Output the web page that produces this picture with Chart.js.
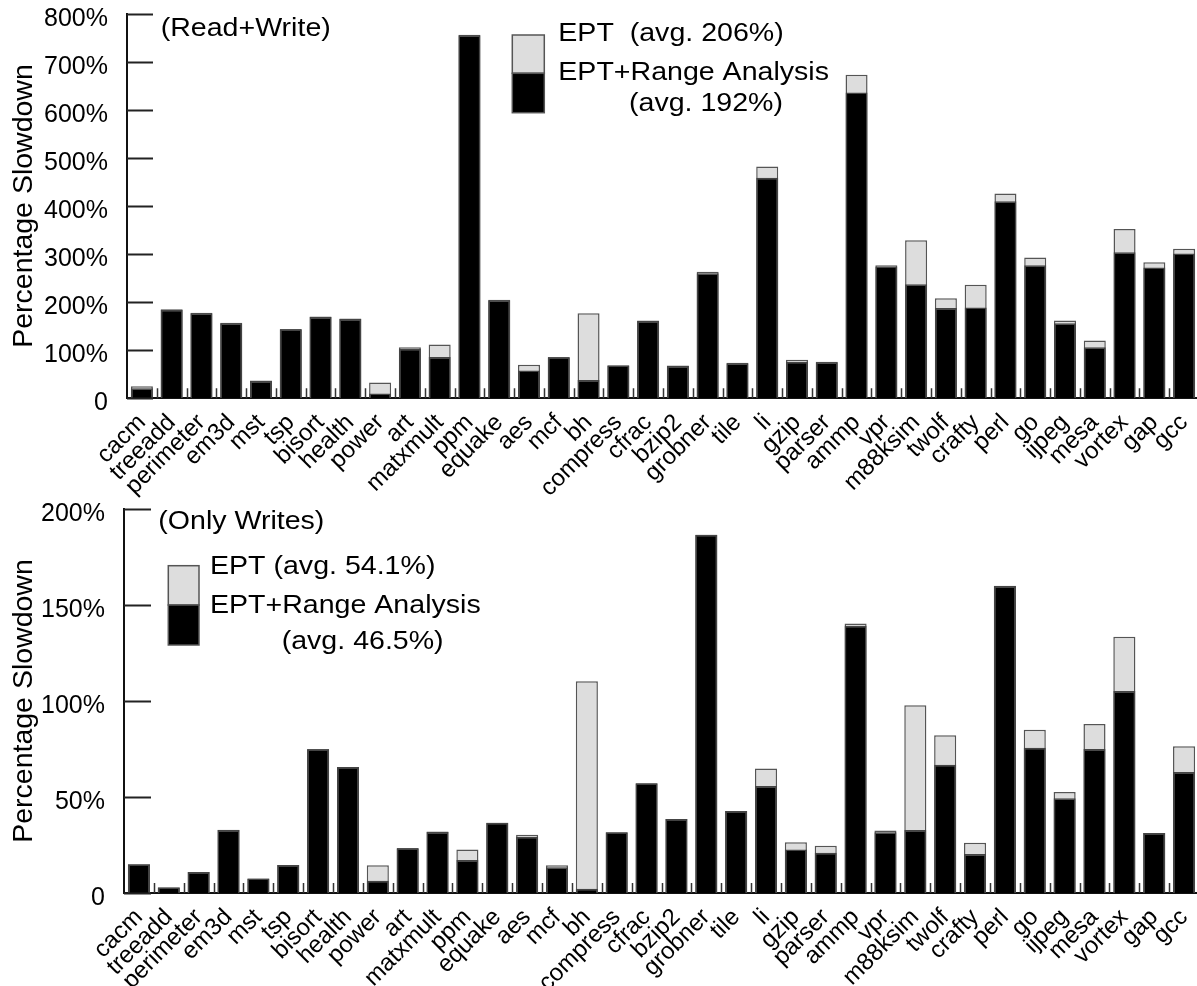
<!DOCTYPE html>
<html>
<head>
<meta charset="utf-8">
<script src="https://cdn.jsdelivr.net/npm/chart.js@4.4.1/dist/chart.umd.min.js"></script>
<style>
  html, body { margin: 0; padding: 0; background: #fff; overflow: hidden; width: 1197px; height: 986px; position: relative; }
  .panel { position: absolute; left: 0; background: transparent; }
  #topPanel { top: 0; z-index: 2; }
  #bottomPanel { top: 490px; z-index: 1; }
  canvas { display: block; background: transparent; }
</style>
</head>
<body>
<div class="panel" id="topPanel"><canvas id="rwChart" width="1200" height="525"></canvas></div>
<div class="panel" id="bottomPanel"><canvas id="woChart" width="1200" height="496"></canvas></div>
<script>
// Benchmarks on the x axis (same order in both panels)
const benchmarks = ['cacm','treeadd','perimeter','em3d','mst','tsp','bisort','health','power','art',
  'matxmult','ppm','equake','aes','mcf','bh','compress','cfrac','bzip2','grobner','tile','li','gzip',
  'parser','ammp','vpr','m88ksim','twolf','crafty','perl','go','ijpeg','mesa','vortex','gap','gcc'];

// Read+Write checking: slowdown in percent
const rwEPT   = [25,185,178,157,37,144,170,166,33,106,112,756,205,70,86,177,69,162,68,263,74,482,80,76,
  673,277,329,208,236,426,293,162,120,352,283,311];
const rwRange = [21,184,177,156,36,143,169,165,10,103,86,755,204,58,85,38,68,161,67,260,73,459,76,75,
  636,274,237,188,189,410,277,156,106,304,272,301];

// Write-only checking: slowdown in percent
const woEPT   = [15,3,11,33,7.6,14.6,75,65.6,14.4,23.5,32,22.6,36.6,30.4,14.4,110.3,31.6,57.1,38.5,186.6,
  42.7,64.9,26.4,24.6,140.4,32.5,97.8,82.1,26.2,160,85,52.6,88,133.5,31.2,76.4];
const woRange = [15,2.8,11,32.8,7.6,14.6,74.8,65.6,6.4,23.2,31.8,17.2,36.6,29.3,13.4,2.2,31.6,57.1,38.5,186.6,
  42.7,55.7,22.6,21,139.2,31.6,32.8,66.8,20.3,159.9,75.7,49.3,75,105.2,31.2,63];

// Y axis tick values
const rwTicks = [0,100,200,300,400,500,600,700,800];
const woTicks = [0,50,100,150,200];

// Legend / note text
const rwNote = '(Read+Write)';
const rwLegend = ['EPT  (avg. 206%)', 'EPT+Range Analysis', '(avg. 192%)'];
const woNote = '(Only Writes)';
const woLegend = ['EPT (avg. 54.1%)', 'EPT+Range Analysis', '(avg. 46.5%)'];

const FONT = '"Liberation Sans", Arial, Helvetica, sans-serif';
const GRAY = '#dddddd';

// Short tick marks drawn inward from the axes
const innerTicks = {
  id: 'innerTicks',
  afterDatasetsDraw(chart, args, opts) {
    const { ctx, chartArea } = chart;
    const x = chart.scales.x, y = chart.scales.y;
    ctx.save();
    ctx.strokeStyle = '#222';
    ctx.lineWidth = 2;
    ctx.beginPath();
    y.ticks.forEach(t => {
      const py = Math.round(y.getPixelForValue(t.value)) + 0.5;
      ctx.moveTo(chartArea.left, py);
      ctx.lineTo(chartArea.left + opts.yLen, py);
    });
    ctx.stroke();
    ctx.lineWidth = 1.5;
    ctx.strokeStyle = '#333';
    ctx.beginPath();
    const n = chart.data.labels.length;
    for (let i = 1; i < n; i++) {
      const px = Math.round((x.getPixelForValue(i - 1) + x.getPixelForValue(i)) / 2) + 0.5;
      ctx.moveTo(px, chartArea.bottom);
      ctx.lineTo(px, chartArea.bottom - 10);
    }
    ctx.stroke();
    ctx.restore();
  }
};

// Panel note and two-swatch legend
const panelLegend = {
  id: 'panelLegend',
  afterDraw(chart, args, o) {
    const ctx = chart.ctx;
    const txt = (s, x, y) => {
      ctx.save();
      ctx.translate(x, y);
      ctx.scale(1.12, 1);
      ctx.fillText(s, 0, 0);
      ctx.restore();
    };
    ctx.save();
    ctx.fillStyle = '#000';
    ctx.font = '25.5px ' + FONT;
    ctx.textBaseline = 'alphabetic';
    ctx.textAlign = 'left';
    txt(o.note, o.noteX, o.noteY);
    txt(o.lines[0], o.textX, o.base[0]);
    txt(o.lines[1], o.textX, o.base[1]);
    txt(o.lines[2], o.text3X, o.base[2]);
    // swatches
    ctx.lineWidth = 1.5;
    ctx.strokeStyle = '#555';
    ctx.fillStyle = GRAY;
    ctx.fillRect(o.box[0], o.box[1], o.box[2], o.box[3]);
    ctx.strokeRect(o.box[0], o.box[1], o.box[2], o.box[3]);
    ctx.fillStyle = '#000';
    ctx.fillRect(o.box[0], o.box[1] + o.box[3], o.box[2], o.box[4]);
    ctx.strokeRect(o.box[0], o.box[1] + o.box[3], o.box[2], o.box[4]);
    ctx.restore();
  }
};

function makeChart(id, ept, range, ticks, cfg) {
  const yMax = ticks[ticks.length - 1];
  return new Chart(document.getElementById(id), {
    type: 'bar',
    data: {
      labels: benchmarks,
      datasets: [
        { label: 'EPT', data: ept, backgroundColor: GRAY, borderColor: '#555', borderWidth: 1.5,
          grouped: false, order: 2, barPercentage: 0.74, categoryPercentage: 1 },
        { label: 'EPT+Range Analysis', data: range, backgroundColor: '#000', borderColor: '#444', borderWidth: 1.5,
          grouped: false, order: 1, barPercentage: 0.74, categoryPercentage: 1 }
      ]
    },
    options: {
      responsive: false,
      animation: false,
      layout: { padding: { top: cfg.top, right: 1, left: 0, bottom: 0 } },
      plugins: {
        legend: { display: false },
        tooltip: { enabled: false },
        innerTicks: { yLen: cfg.yLen },
        panelLegend: cfg.legend
      },
      scales: {
        x: {
          offset: true,
          grid: { display: false, drawTicks: false },
          border: { display: true, color: '#111', width: 2 },
          ticks: {
            autoSkip: false, maxRotation: 45, minRotation: 45, padding: 12,
            color: '#000', font: { family: FONT, size: 24, lineHeight: 1 }
          },
          afterFit(scale) {
            scale.height = cfg.xHeight;
            scale.paddingLeft = 0; scale.paddingRight = 0;
          }
        },
        y: {
          min: 0, max: yMax,
          afterBuildTicks(scale) { scale.ticks = ticks.map(v => ({ value: v })); },
          grid: { display: false, drawTicks: false },
          border: { display: true, color: '#111', width: 2 },
          ticks: {
            padding: 19, labelOffset: 5, color: '#000',
            font: { family: FONT, size: 25, lineHeight: 1 },
            callback: v => (v === 0 ? '0' : v + '%')
          },
          title: {
            display: true, text: 'Percentage Slowdown', color: '#000',
            font: { family: FONT, size: 28.5, lineHeight: 1.2 },
            padding: { top: 7, bottom: 0 }
          },
          afterFit(scale) {
            scale.width = cfg.yWidth;
            scale.paddingTop = 0; scale.paddingBottom = 0;
          }
        }
      }
    },
    plugins: [innerTicks, panelLegend]
  });
}

makeChart('rwChart', rwEPT, rwRange, rwTicks, {
  top: 13.7, xHeight: 126.7, yWidth: 127, yLen: 26,
  legend: {
    note: rwNote, noteX: 160.7, noteY: 35.7,
    lines: rwLegend, textX: 558.3, text3X: 629, base: [40.7, 80, 111],
    box: [512.3, 35, 32, 38.3, 39.4]
  }
});

makeChart('woChart', woEPT, woRange, woTicks, {
  top: 19, xHeight: 93, yWidth: 124, yLen: 27,
  legend: {
    note: woNote, noteX: 158.3, noteY: 39.3,
    lines: woLegend, textX: 210, text3X: 281.7, base: [84, 123.3, 159],
    box: [168.3, 75.7, 30.7, 39.3, 40]
  }
});
</script>
</body>
</html>
